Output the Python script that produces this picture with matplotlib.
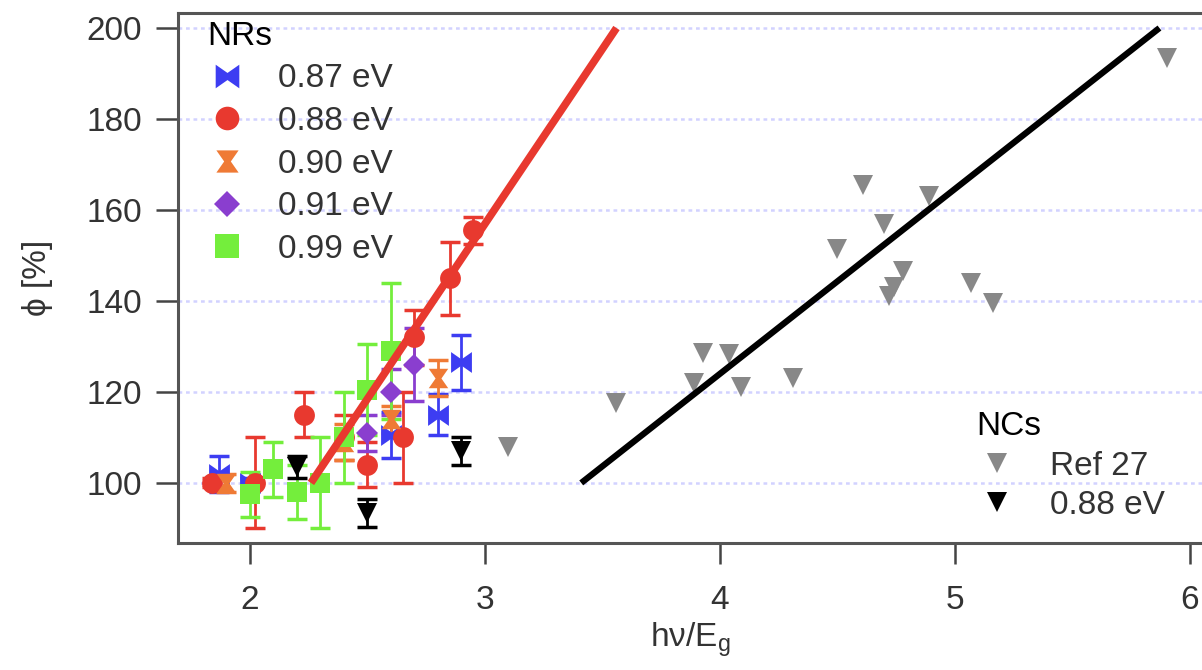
import matplotlib
matplotlib.use('Agg')
import matplotlib.pyplot as plt
from matplotlib.lines import Line2D
from matplotlib.path import Path

plt.rcParams['font.family'] = ['Liberation Sans', 'DejaVu Sans']

# datos NRs (x = hv/Eg, y = phi %, e = barra de error)
x087 = [1.87, 2.00, 2.60, 2.80, 2.90]
y087 = [102, 100, 110.5, 115, 126.5]
e087 = [4, 1, 5, 4.5, 6]

x088 = [1.84, 2.02, 2.23, 2.40, 2.50, 2.65, 2.70, 2.85, 2.95]
y088 = [100, 100, 115, 110, 104, 110, 132, 145, 155.5]
e088 = [1, 10, 5, 5, 5, 10, 6, 8, 3]

x090 = [1.90, 2.40, 2.60, 2.80]
y090 = [100, 109, 114, 123]
e090 = [2, 4, 3, 4]

x091 = [2.50, 2.60, 2.70]
y091 = [111, 120, 126]
e091 = [4, 5, 8]

x099 = [2.00, 2.10, 2.20, 2.30, 2.40, 2.50, 2.60]
y099 = [97.5, 103, 98, 100, 110, 120.5, 129]
e099 = [5, 6, 6, 10, 10, 10, 15]

# NCs
xref = [3.10, 3.56, 3.89, 3.93, 4.04, 4.09, 4.31, 4.50, 4.61, 4.70, 4.72, 4.74,
        4.78, 4.89, 5.07, 5.16, 5.90]
yref = [108, 117.5, 122, 128.5, 128.3, 121, 123, 151.5, 165.5, 157, 141, 143,
        146.5, 163, 144, 139.5, 193.5]
xnc = [2.20, 2.50, 2.90]
ync = [103.5, 93.4, 107]
enc = [2.5, 3, 3]

# ajustes lineales
fit_nr_x = [2.26, 3.56]
fit_nr_y = [100, 200]
fit_nc_x = [3.41, 5.87]
fit_nc_y = [100, 200]

# marcadores tipo Igor
bowtie = Path([(-1, -1), (-1, 1), (0, 0.3), (1, 1), (1, -1), (0, -0.3), (-1, -1)],
              [1, 2, 2, 2, 2, 2, 79])
hourglass = Path([(-1, 1), (1, 1), (0.3, 0), (1, -1), (-1, -1), (-0.3, 0), (-1, 1)],
                 [1, 2, 2, 2, 2, 2, 79])

cblue = '#3d3df2'
cred = '#e8392f'
corange = '#ef7a35'
cpurple = '#8a3ecf'
cgreen = '#74ee3c'
fs = 24

fig = plt.figure(figsize=(12.02, 6.70), dpi=100)
ax = fig.add_axes([0.148, 0.1896, 0.852, 0.791])

series = [(x087, y087, e087, cblue, bowtie, 15),
          (x088, y088, e088, cred, 'o', 15),
          (x090, y090, e090, corange, hourglass, 14),
          (x091, y091, e091, cpurple, 'D', 11),
          (x099, y099, e099, cgreen, 's', 15)]
for xs, ys, es, c, m, ms in series:
    ax.errorbar(xs, ys, yerr=es, fmt='none', ecolor=c, elinewidth=2, capsize=7.5,
                capthick=2.5, zorder=3)
    ax.plot(xs, ys, linestyle='none', marker=m, markersize=ms, color=c,
            markeredgewidth=0, zorder=4)

ax.errorbar(xnc, ync, yerr=enc, fmt='none', ecolor='k', elinewidth=2, capsize=7.5,
            capthick=2.5, zorder=3)
ax.plot(xnc, ync, linestyle='none', marker='v', markersize=15, color='k',
        markeredgewidth=0, zorder=4)
ax.plot(xref, yref, linestyle='none', marker='v', markersize=15, color='#888888',
        markeredgewidth=0, zorder=4)

ax.plot(fit_nr_x, fit_nr_y, color=cred, linewidth=5.5, solid_capstyle='butt', zorder=5)
ax.plot(fit_nc_x, fit_nc_y, color='k', linewidth=4.5, solid_capstyle='butt', zorder=5)

ax.set_xlim(1.694, 6.051)
ax.set_ylim(86.8, 203.3)
ax.set_xticks([2, 3, 4, 5, 6])
ax.set_yticks([100, 120, 140, 160, 180, 200])
ax.yaxis.grid(True, linestyle=(0, (1.5, 1.5)), color='#d2d2ff', linewidth=1.8)
ax.set_axisbelow(True)

for s in ['left', 'bottom', 'top']:
    ax.spines[s].set_color('#555555')
    ax.spines[s].set_linewidth(2.2)
ax.spines['right'].set_visible(False)
ax.tick_params(direction='out', length=16, width=1.8, color='#444444',
               labelsize=fs, labelcolor='#333333', pad=10)
ax.tick_params(axis='x', length=15, pad=15)

ax.set_xlabel('hν/E$_\\mathregular{g}$', fontsize=fs, color='#333333', labelpad=3)
ax.set_ylabel('ϕ [%]', fontsize=fs, color='#333333', labelpad=24)

# leyendas
h_nr = [Line2D([], [], linestyle='none', marker=m, markersize=ms + 2, color=c,
               markeredgewidth=0) for xs, ys, es, c, m, ms in series]
lab_nr = ['0.87 eV', '0.88 eV', '0.90 eV', '0.91 eV', '0.99 eV']
leg1 = ax.legend(h_nr, lab_nr, title='NRs', loc='upper left', bbox_to_anchor=(0.025, 0.992),
                 frameon=False, fontsize=fs, title_fontsize=fs, alignment='left',
                 handlelength=1.2, handletextpad=0.95, labelspacing=0.35,
                 borderaxespad=0.05, borderpad=0.05, labelcolor='#333333')
ax.add_artist(leg1)

h_nc = [Line2D([], [], linestyle='none', marker='v', markersize=15, color='#888888',
               markeredgewidth=0),
        Line2D([], [], linestyle='none', marker='v', markersize=15, color='k',
               markeredgewidth=0)]
ax.legend(h_nc, ['Ref 27', '0.88 eV'], title='NCs', loc='lower right',
          bbox_to_anchor=(0.98, 0.01), frameon=False, fontsize=fs, title_fontsize=fs,
          alignment='left', handlelength=1.2, handletextpad=1.0, labelspacing=0.25,
          borderaxespad=0.2, borderpad=0.3, labelcolor='#333333')

plt.savefig('out.png', dpi=100)
